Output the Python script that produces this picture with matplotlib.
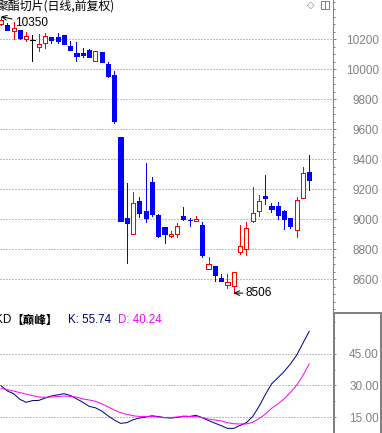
import matplotlib
matplotlib.use('Agg')
import matplotlib.pyplot as plt
from matplotlib.patches import Rectangle
from matplotlib.lines import Line2D
from matplotlib.ticker import MultipleLocator

# daily candles
opens = [10300, 10293, 10253, 10260, 10200, 10193, 10147, 10175, 10215, 10215,
         10225, 10153, 10109, 10105, 10127, 10053, 10113, 10033, 9960, 9547,
         9007, 8902, 9120, 9053, 9247, 9027, 8947, 8885, 8898, 9020,
         8991, 8985, 8960, 8665, 8687, 8607, 8562, 8551, 8778, 8798,
         8985, 9051, 9153, 9087, 9087, 9053, 9005, 8925, 9138, 9313]
highs = [10350, 10307, 10313, 10262, 10247, 10229, 10233, 10240, 10215, 10240,
         10225, 10185, 10180, 10142, 10133, 10122, 10113, 10047, 9987, 9547,
         9240, 9180, 9147, 9373, 9280, 9033, 8947, 8920, 8971, 9080,
         9009, 9018, 8980, 8747, 8687, 8631, 8633, 8647, 8960, 8980,
         9213, 9160, 9293, 9107, 9113, 9060, 9005, 9147, 9347, 9427]
lows = [10295, 10258, 10200, 10200, 10189, 10055, 10120, 10138, 10173, 10171,
        10167, 10127, 10053, 10078, 10078, 10053, 10047, 9950, 9642, 8989,
        8709, 8902, 9016, 8980, 9020, 8878, 8842, 8878, 8882, 8993,
        8953, 8985, 8745, 8665, 8585, 8585, 8538, 8506, 8765, 8758,
        8978, 9018, 9098, 9047, 8998, 8931, 8938, 8878, 9138, 9193]
closes = [10325, 10262, 10273, 10205, 10220, 10193, 10167, 10220, 10193, 10187,
          10167, 10127, 10087, 10093, 10078, 10122, 10047, 9953, 9655, 8989,
          8976, 9105, 9042, 9009, 9033, 8889, 8902, 8898, 8953, 9000,
          8991, 9000, 8760, 8700, 8625, 8585, 8580, 8647, 8820, 8940,
          9040, 9120, 9142, 9067, 9025, 8998, 8953, 9127, 9307, 9262]

k_vals = [29.9, 27.4, 26.1, 23.4, 22.0, 22.8, 22.9, 24.0, 25.0, 25.5,
          26.1, 25.3, 23.7, 22.0, 20.1, 19.4, 17.9, 15.6, 13.6, 12.0,
          12.3, 13.7, 14.5, 15.0, 15.6, 15.2, 14.7, 14.5, 14.8, 15.4,
          15.3, 15.8, 14.7, 13.3, 12.1, 10.9, 9.6, 9.6, 11.0, 12.3,
          15.2, 19.9, 25.5, 30.7, 33.6, 36.6, 40.2, 44.4, 50.1, 55.74]
d_vals = [28.6, 28.0, 27.4, 26.6, 25.9, 25.2, 24.5, 24.4, 24.5, 24.7,
          25.0, 24.8, 24.5, 23.6, 23.1, 22.5, 21.3, 19.9, 18.3, 17.1,
          16.3, 15.6, 15.3, 15.3, 15.3, 15.0, 14.8, 14.8, 15.0, 15.2,
          15.2, 15.2, 14.8, 14.0, 13.6, 13.1, 12.3, 11.8, 11.7, 11.7,
          12.5, 14.2, 16.3, 19.1, 21.2, 23.6, 26.7, 30.1, 34.7, 40.24]

price_ticks = [8600, 8800, 9000, 9200, 9400, 9600, 9800, 10000, 10200]
kd_ticks = [15, 30, 45]

title = "聚酯切片(日线,前复权)"
kd_name = "【巅峰】"
k_text = "K: 55.74"
d_text = "D: 40.24"
high_idx, high_val = 0, 10350
low_idx, low_val = 37, 8506

RED = '#ff0000'
BLUE = '#0000ff'
NAVY = '#000080'
MAGENTA = '#ff00ff'
GRAY = '#808080'
CJK = ['Noto Sans CJK SC', 'DejaVu Sans']
NUM = ['Liberation Sans', 'DejaVu Sans']
PX = 0.72  # one pixel in points at dpi 100

W, H = 382, 433


def fx(px):
    return px / W


def fy(py):
    return 1 - py / H


fig = plt.figure(figsize=(W / 100, H / 100), dpi=100)
ax = fig.add_axes([0, fy(311.5), fx(332.5), 311.5 / H])
axk = fig.add_axes([0, 0, fx(332.5), fy(312)])

step = 6.29  # pixels per candle
xmin, xmax = -1 / step, (332.5 - 1) / step
xs = list(range(len(opens)))

# candles
bw = 0.66
for i in xs:
    o, h, l, c = opens[i], highs[i], lows[i], closes[i]
    if c > o:
        ax.vlines(i, c, h, color=RED, lw=PX, antialiased=False)
        ax.vlines(i, l, o, color=RED, lw=PX, antialiased=False)
        ax.bar(i, c - o, bottom=o, width=bw, facecolor='white', edgecolor=RED,
               lw=PX, antialiased=False, zorder=3)
    elif c < o:
        ax.vlines(i, l, h, color=BLUE, lw=PX, antialiased=False, zorder=2)
        ax.bar(i, o - c, bottom=c, width=bw, facecolor=BLUE, edgecolor=BLUE,
               lw=PX, antialiased=False, zorder=3)
    else:
        col = 'black' if i == 5 else BLUE
        ax.vlines(i, l, h, color=col, lw=PX, antialiased=False)
        ax.hlines(o, i - bw / 2, i + bw / 2, color=col, lw=PX, antialiased=False)

ax.set_xlim(xmin, xmax)
ax.set_ylim(10200 - 272.5 * 200 / 30, 10200 + 39 * 200 / 30)
ax.set_xticks([])
ax.set_yticks(price_ticks)
ax.yaxis.set_minor_locator(MultipleLocator(50))
ax.yaxis.tick_right()
ax.tick_params(axis='y', which='major', direction='out', length=3 * PX, width=PX,
               color=GRAY, labelcolor=GRAY, labelsize=8.5, pad=31.2)
ax.tick_params(axis='y', which='minor', direction='out', length=2 * PX, width=PX,
               color=GRAY)
for t in ax.get_yticklabels():
    t.set_horizontalalignment('right')
    t.set_family(NUM)
ax.grid(axis='y', which='major', color=GRAY, lw=PX, linestyle=(0, (1, 2)))
ax.set_axisbelow(True)
for s in ['top', 'left']:
    ax.spines[s].set_visible(False)
for s in ['right', 'bottom']:
    ax.spines[s].set_color(GRAY)
    ax.spines[s].set_linewidth(PX)

# high / low markers
ax.annotate(str(high_val), xy=(high_idx, high_val), xytext=(10, -5),
            textcoords='offset points', va='center', ha='left', fontsize=8.5,
            family=NUM, arrowprops=dict(arrowstyle='->', lw=PX, color='black',
                                        shrinkA=0, shrinkB=0))
ax.annotate(str(low_val), xy=(low_idx, low_val), xytext=(8.6, 0),
            textcoords='offset points', va='center', ha='left', fontsize=8.5,
            family=NUM, arrowprops=dict(arrowstyle='->', lw=PX, color='black',
                                        shrinkA=0, shrinkB=0))

# KD panel
axk.plot(xs, k_vals, color=NAVY, lw=PX)
axk.plot(xs, d_vals, color=MAGENTA, lw=PX)
axk.set_xlim(xmin, xmax)
axk.set_ylim(15 - 16 * 15 / 31.6, 45 + 42 * 15 / 31.6)
axk.set_xticks([])
axk.set_yticks(kd_ticks)
axk.set_yticklabels(['%.2f' % v for v in kd_ticks])
axk.yaxis.set_minor_locator(MultipleLocator(7.5))
axk.yaxis.tick_right()
axk.tick_params(axis='y', which='major', direction='out', length=3 * PX, width=PX,
                color=GRAY, labelcolor=GRAY, labelsize=8.5, pad=31.2)
axk.tick_params(axis='y', which='minor', direction='out', length=2 * PX, width=PX,
                color=GRAY)
for t in axk.get_yticklabels():
    t.set_horizontalalignment('right')
    t.set_family(NUM)
axk.grid(axis='y', which='major', color=GRAY, lw=PX, linestyle=(0, (1, 2)))
for s in axk.spines.values():
    s.set_visible(False)

# box around KD scale
fig.patches.append(Rectangle((fx(333.5), -0.02), fx(380.5) - fx(333.5), fy(313) + 0.02,
                             transform=fig.transFigure, fill=False, edgecolor=GRAY,
                             lw=2 * PX))

# titles
fig.text(fx(-3.5), fy(6), title, va='center', ha='left', fontsize=8.6, family=CJK)
fig.text(fx(-4.5), fy(320), "KD", va='center', ha='left', fontsize=8.5, family=NUM)
fig.text(fx(11.5), fy(320), kd_name, va='center', ha='left', fontsize=8.4,
         family=CJK, weight='bold')
fig.text(fx(68), fy(320), k_text, va='center', ha='left', fontsize=8.3,
         family=NUM, color=NAVY)
fig.text(fx(118), fy(320), d_text, va='center', ha='left', fontsize=8.3,
         family=NUM, color=MAGENTA)

# little window icons at top right
fig.text(fx(311), fy(5), "\u25c7", va='center', ha='center', fontsize=7,
         color=GRAY, family=['DejaVu Sans'])
fig.patches.append(Rectangle((fx(320.5), fy(9)), fx(329) - fx(320.5), fy(0.5) - fy(9),
                             transform=fig.transFigure, fill=False, edgecolor=GRAY,
                             lw=PX))
fig.lines.append(Line2D([fx(324.7), fx(324.7)], [fy(9), fy(0.5)],
                        transform=fig.transFigure, color=GRAY, lw=PX))

fig.savefig('out.png', dpi=100)
